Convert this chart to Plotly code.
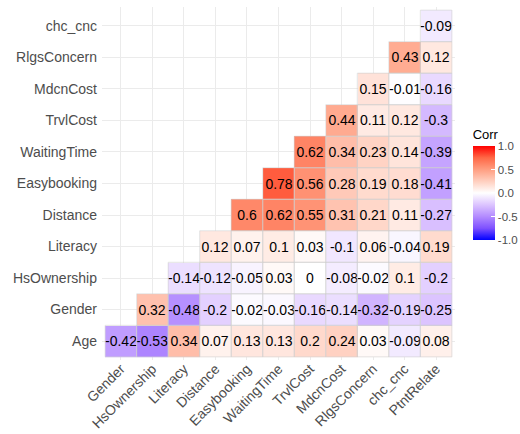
import plotly.graph_objects as go

x_labels = ["Gender", "HsOwnership", "Literacy", "Distance", "Easybooking",
            "WaitingTime", "TrvlCost", "MdcnCost", "RlgsConcern", "chc_cnc", "PtntRelate"]
y_labels = ["Age", "Gender", "HsOwnership", "Literacy", "Distance", "Easybooking",
            "WaitingTime", "TrvlCost", "MdcnCost", "RlgsConcern", "chc_cnc"]

# correlations per row (row starts at the column of same index)
age = [-0.42, -0.53, 0.34, 0.07, 0.13, 0.13, 0.2, 0.24, 0.03, -0.09, 0.08]
gender = [0.32, -0.48, -0.2, -0.02, -0.03, -0.16, -0.14, -0.32, -0.19, -0.25]
hsownership = [-0.14, -0.12, -0.05, 0.03, 0, -0.08, -0.02, 0.1, -0.2]
literacy = [0.12, 0.07, 0.1, 0.03, -0.1, 0.06, -0.04, 0.19]
distance = [0.6, 0.62, 0.55, 0.31, 0.21, 0.11, -0.27]
easybooking = [0.78, 0.56, 0.28, 0.19, 0.18, -0.41]
waitingtime = [0.62, 0.34, 0.23, 0.14, -0.39]
trvlcost = [0.44, 0.11, 0.12, -0.3]
mdcncost = [0.15, -0.01, -0.16]
rlgsconcern = [0.43, 0.12]
chc_cnc = [-0.09]

rows = [age, gender, hsownership, literacy, distance, easybooking,
        waitingtime, trvlcost, mdcncost, rlgsconcern, chc_cnc]

n = len(x_labels)
z = []
text = []
for i, r in enumerate(rows):
    pad = n - len(r)
    z.append([None] * pad + r)
    text.append([""] * pad + [f"{v:g}" for v in r])

colorscale = [
    [0.0, "rgb(0,0,255)"],
    [0.125, "rgb(126,81,255)"],
    [0.25, "rgb(179,139,255)"],
    [0.375, "rgb(220,196,255)"],
    [0.5, "rgb(255,255,255)"],
    [0.625, "rgb(255,207,191)"],
    [0.75, "rgb(255,158,129)"],
    [0.875, "rgb(255,104,70)"],
    [1.0, "rgb(255,0,0)"],
]

FONT = "Liberation Sans, Arial, sans-serif"

fig = go.Figure()
fig.add_trace(go.Heatmap(
    z=z, x=x_labels, y=y_labels, text=text, texttemplate="%{text}",
    textfont=dict(size=14, color="black", family=FONT),
    colorscale=colorscale, zmin=-1, zmax=1, hoverongaps=False,
    colorbar=dict(
        title=dict(text="Corr", side="top", font=dict(size=13, color="black", family=FONT)),
        x=1.05, xanchor="left", y=0.34, yanchor="bottom",
        len=114, lenmode="pixels", thickness=22, outlinewidth=0,
        xpad=0, ypad=0,
        tickvals=[-1, -0.5, 0, 0.5, 1], ticktext=["-1.0", "-0.5", "0.0", "0.5", "1.0"],
        ticks="inside", ticklen=4, tickcolor="white",
        tickfont=dict(size=11.5, color="#4D4D4D", family=FONT),
    ),
))

shapes = []
for i, r in enumerate(rows):
    for j in range(n - len(r), n):
        shapes.append(dict(type="rect", xref="x", yref="y",
                           x0=j - 0.5, x1=j + 0.5, y0=i - 0.5, y1=i + 0.5,
                           line=dict(color="#D0D0D0", width=0.6), layer="above"))

fig.update_layout(
    width=520, height=434,
    margin=dict(l=102, r=65, t=7, b=74, autoexpand=False),
    plot_bgcolor="white", paper_bgcolor="white",
    font=dict(family=FONT, size=14, color="#4D4D4D"),
    shapes=shapes,
    xaxis=dict(range=[-0.6, 10.6], showgrid=True, gridcolor="#EBEBEB", gridwidth=1,
               zeroline=False, tickangle=-45, ticks="", automargin=False,
               ticklabelstandoff=-3,
               tickfont=dict(size=14, color="#4D4D4D", family=FONT), showline=False),
    yaxis=dict(range=[-0.6, 10.6], showgrid=True, gridcolor="#EBEBEB", gridwidth=1,
               zeroline=False, ticks="", automargin=False,
               ticklabelstandoff=4,
               tickfont=dict(size=14, color="#4D4D4D", family=FONT), showline=False),
)

fig.write_html("out.html", config={"displayModeBar": False},
               post_script="document.body.style.margin='0';")
